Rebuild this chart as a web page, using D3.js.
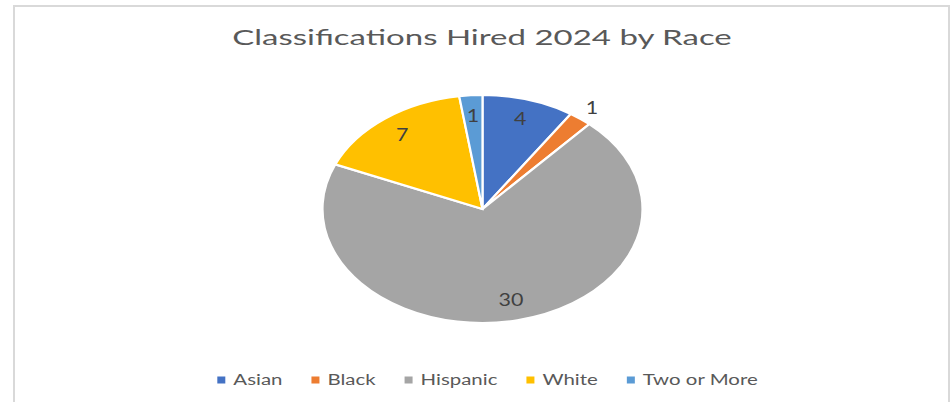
<!DOCTYPE html>
<html>
<head>
<meta charset="utf-8">
<script src="https://cdn.jsdelivr.net/npm/d3@7"></script>
<style>
  html, body { margin: 0; padding: 0; background: #fff; }
  svg { display: block; }
</style>
</head>
<body>
<svg id="chart"></svg>
<script>
// Data
const categories = ["Asian", "Black", "Hispanic", "White", "Two or More"]
const counts = [4, 1, 30, 7, 1]
const colors = ["#4472C4", "#ED7D31", "#A5A5A5", "#FFC000", "#5B9BD5"]
const outsideLabels = ["Black"] // too thin to hold its label
const title = "Classifications Hired 2024 by Race"

const width = 951
const height = 402
const font = "Lato, 'Open Sans', sans-serif"

const svg = d3.select("#chart")
  .attr("width", width)
  .attr("height", height)

// Chart frame (bottom is cropped in the reference)
svg.append("rect")
  .attr("x", 14)
  .attr("y", 6)
  .attr("width", 935)
  .attr("height", 430)
  .attr("fill", "#fff")
  .attr("stroke", "#d9d9d9")
  .attr("stroke-width", 2)

// The reference is horizontally stretched, so text gets a x-scale too
function stretchText(sel, x, y, sx) {
  sel.attr("transform", `translate(${x}, ${y}) scale(${sx}, 1)`)
}

svg.append("text")
  .text(title)
  .attr("text-anchor", "middle")
  .attr("font-family", font)
  .attr("font-size", 22)
  .attr("fill", "#595959")
  .call(stretchText, 482, 45, 1.5)

// Pie, drawn as a circle then squashed into an ellipse
const cx = 482.5
const cy = 209
const rx = 160
const ry = 114

const pie = d3.pie().sort(null).value(d => d.value)
const slices = pie(categories.map((c, i) => ({ name: c, value: counts[i], color: colors[i] })))
const arc = d3.arc().innerRadius(0).outerRadius(rx)

const pieG = svg.append("g")
  .attr("transform", `translate(${cx}, ${cy}) scale(1, ${ry / rx})`)

pieG.selectAll("path")
  .data(slices)
  .join("path")
  .attr("d", arc)
  .attr("fill", d => d.data.color)
  .attr("stroke", "#fff")
  .attr("stroke-width", 2.2)
  .attr("vector-effect", "non-scaling-stroke")

// Data labels
slices.forEach(d => {
  const k = outsideLabels.includes(d.data.name) ? 1.12 : 0.82
  const [lx, ly] = d3.arc().innerRadius(rx * k).outerRadius(rx * k).centroid(d)
  svg.append("text")
    .text(d.data.value)
    .attr("text-anchor", "middle")
    .attr("dy", "0.36em")
    .attr("font-family", font)
    .attr("font-size", 16.5)
    .attr("fill", "#404040")
    .call(stretchText, cx + lx, cy + ly * ry / rx, 1.3)
})

// Legend
const legendY = 380
const legendSx = 1.4
const legend = svg.append("g")

let xPos = 0
categories.forEach((c, i) => {
  const item = legend.append("g")
  item.append("rect")
    .attr("x", xPos)
    .attr("y", legendY - 3.5)
    .attr("width", 8)
    .attr("height", 7)
    .attr("fill", colors[i])
  const label = item.append("text")
    .text(c)
    .attr("dy", "0.35em")
    .attr("font-family", font)
    .attr("font-size", 14.6)
    .attr("fill", "#595959")
    .call(stretchText, xPos + 16, legendY, legendSx)
  const w = label.node().getComputedTextLength() * legendSx
  xPos += 16 + w + 29
})
const legendWidth = xPos - 29
legend.attr("transform", `translate(${487.5 - legendWidth / 2}, 0)`)
</script>
</body>
</html>
